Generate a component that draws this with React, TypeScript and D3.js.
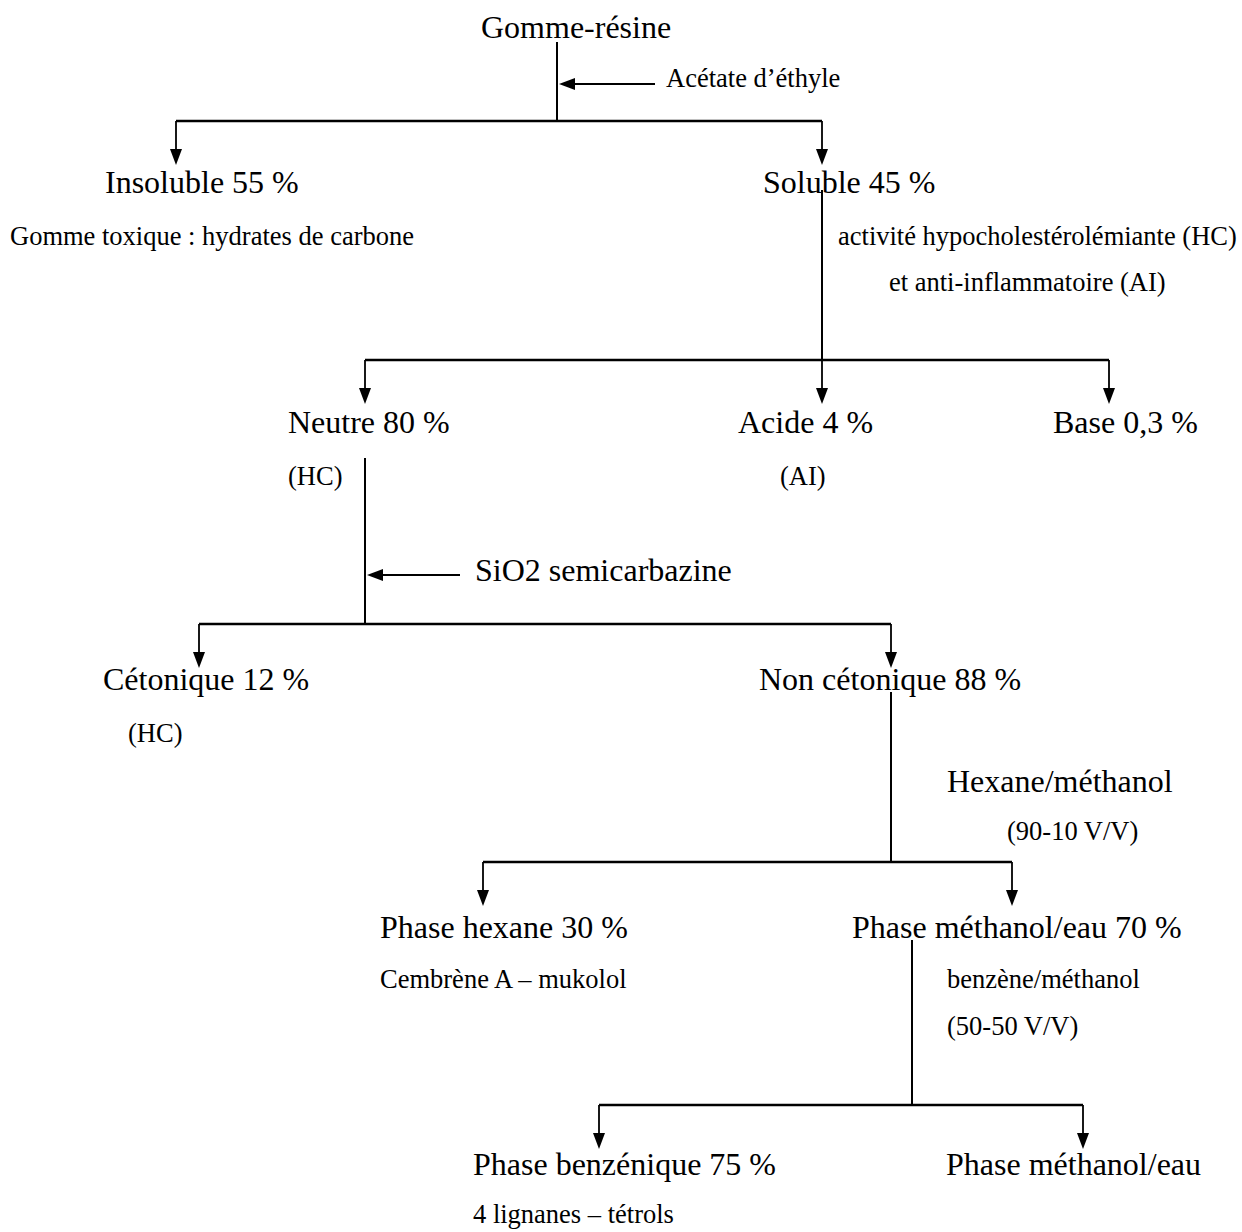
import { useEffect, useRef } from 'react';
import * as d3 from 'd3';

// node labels of the fractionation scheme
const nodeIds = ['root', 'insol', 'sol', 'neutre', 'acide', 'base', 'ceto', 'noncet', 'hex', 'meth', 'benz', 'methEau'];
const nodeLabels = [
    'Gomme-résine',
    'Insoluble 55 %',
    'Soluble 45 %',
    'Neutre 80 %',
    'Acide 4 %',
    'Base 0,3 %',
    'Cétonique 12 %',
    'Non cétonique 88 %',
    'Phase hexane 30 %',
    'Phase méthanol/eau 70 %',
    'Phase benzénique 75 %',
    'Phase méthanol/eau',
];

// parent -> children splits
const splitParents = ['root', 'sol', 'neutre', 'noncet', 'meth'];
const splitChildren = [
    ['insol', 'sol'],
    ['neutre', 'acide', 'base'],
    ['ceto', 'noncet'],
    ['hex', 'meth'],
    ['benz', 'methEau'],
];

// solvent / reagent added with a side arrow
const reagentNodes = ['root', 'neutre'];
const reagentLabels = ['Acétate d’éthyle', 'SiO2 semicarbazine'];

// free notes (small and large)
const noteIds = ['n1', 'n2', 'n3', 'n4', 'n5', 'n6', 'n7', 'n8', 'n9', 'n10', 'n11', 'n12'];
const noteTexts = [
    'Gomme toxique : hydrates de carbone',
    'activité hypocholestérolémiante (HC)',
    'et anti-inflammatoire (AI)',
    '(HC)',
    '(AI)',
    '(HC)',
    'Hexane/méthanol',
    '(90-10 V/V)',
    'Cembrène A – mukolol',
    'benzène/méthanol',
    '(50-50 V/V)',
    '4 lignanes – tétrols',
];

// ---- layout (pixels) ----
const W = 1242;
const H = 1232;
const BIG = 32;
const SMALL = 26.5;

const nodePos: Record<string, { x: number; y: number; ax: number }> = {
    root: { x: 481, y: 38, ax: 557 },
    insol: { x: 105, y: 193, ax: 176 },
    sol: { x: 763, y: 193, ax: 822 },
    neutre: { x: 288, y: 433, ax: 365 },
    acide: { x: 738, y: 433, ax: 822 },
    base: { x: 1053, y: 433, ax: 1109 },
    ceto: { x: 103, y: 690, ax: 199 },
    noncet: { x: 759, y: 690, ax: 891 },
    hex: { x: 380, y: 938, ax: 483 },
    meth: { x: 852, y: 938, ax: 1012 },
    benz: { x: 473, y: 1175, ax: 599 },
    methEau: { x: 946, y: 1175, ax: 1083 },
};

// stem of each split: x, top, bar y
const splitPos: Record<string, { x: number; top: number; bar: number }> = {
    root: { x: 557, top: 42, bar: 121 },
    sol: { x: 822, top: 190, bar: 360 },
    neutre: { x: 365, top: 458, bar: 624 },
    noncet: { x: 891, top: 692, bar: 862 },
    meth: { x: 912, top: 940, bar: 1105 },
};

const reagentPos: Record<string, { y: number; from: number; tx: number; ty: number; size: number }> = {
    root: { y: 84, from: 655, tx: 666, ty: 87, size: SMALL },
    neutre: { y: 575, from: 460, tx: 475, ty: 581, size: BIG },
};

const notePos: Record<string, { x: number; y: number; size: number }> = {
    n1: { x: 10, y: 245, size: SMALL },
    n2: { x: 838, y: 245, size: SMALL },
    n3: { x: 889, y: 291, size: SMALL },
    n4: { x: 288, y: 485, size: SMALL },
    n5: { x: 780, y: 485, size: SMALL },
    n6: { x: 128, y: 742, size: SMALL },
    n7: { x: 947, y: 792, size: BIG },
    n8: { x: 1007, y: 840, size: SMALL },
    n9: { x: 380, y: 988, size: SMALL },
    n10: { x: 947, y: 988, size: SMALL },
    n11: { x: 947, y: 1035, size: SMALL },
    n12: { x: 473, y: 1223, size: SMALL },
};

const ARROW_DROP = 44;
const HEAD_L = 16;
const HEAD_W = 6;

export default function App() {
    const ref = useRef<SVGSVGElement>(null);

    useEffect(() => {
        if (!ref.current) return;
        document.body.style.margin = '0';

        const svg = d3.select(ref.current);
        svg.selectAll('*').remove();
        svg.attr('width', W).attr('height', H);

        svg.append('rect').attr('width', W).attr('height', H).attr('fill', '#fff');

        const font = '"Liberation Serif", "Times New Roman", serif';
        const g = svg.append('g');
        const line = d3.line();

        const downHead = (x: number, y: number) =>
            `M${x},${y}L${x - HEAD_W},${y - HEAD_L}L${x + HEAD_W},${y - HEAD_L}Z`;
        const leftHead = (x: number, y: number) =>
            `M${x},${y}L${x + HEAD_L},${y - HEAD_W}L${x + HEAD_L},${y + HEAD_W}Z`;

        // splits
        splitParents.forEach((p, i) => {
            const s = splitPos[p];
            const kids = splitChildren[i];
            const xs = kids.map((k) => nodePos[k].ax);
            const tip = s.bar + ARROW_DROP;

            g.append('path')
                .attr('d', line([[s.x, s.top], [s.x, s.bar]]) as string)
                .attr('stroke', '#000')
                .attr('stroke-width', 2)
                .attr('fill', 'none');

            g.append('path')
                .attr('d', line([[d3.min(xs)!, s.bar], [d3.max(xs)!, s.bar]]) as string)
                .attr('stroke', '#000')
                .attr('stroke-width', 2.4)
                .attr('fill', 'none');

            xs.forEach((x) => {
                g.append('path')
                    .attr('d', line([[x, s.bar], [x, tip - HEAD_L + 2]]) as string)
                    .attr('stroke', '#000')
                    .attr('stroke-width', 1.8)
                    .attr('fill', 'none');
                g.append('path').attr('d', downHead(x, tip)).attr('fill', '#000');
            });
        });

        // reagent arrows
        reagentNodes.forEach((n, i) => {
            const r = reagentPos[n];
            const x0 = splitPos[n].x + 2;
            g.append('path')
                .attr('d', line([[x0 + HEAD_L - 2, r.y], [r.from, r.y]]) as string)
                .attr('stroke', '#000')
                .attr('stroke-width', 1.8)
                .attr('fill', 'none');
            g.append('path').attr('d', leftHead(x0, r.y)).attr('fill', '#000');
            g.append('text')
                .attr('x', r.tx)
                .attr('y', r.ty)
                .attr('font-family', font)
                .attr('font-size', r.size)
                .attr('fill', '#000')
                .text(reagentLabels[i]);
        });

        // node labels
        nodeIds.forEach((id, i) => {
            const p = nodePos[id];
            g.append('text')
                .attr('x', p.x)
                .attr('y', p.y)
                .attr('font-family', font)
                .attr('font-size', BIG)
                .attr('fill', '#000')
                .text(nodeLabels[i]);
        });

        // notes
        noteIds.forEach((id, i) => {
            const p = notePos[id];
            g.append('text')
                .attr('x', p.x)
                .attr('y', p.y)
                .attr('font-family', font)
                .attr('font-size', p.size)
                .attr('fill', '#000')
                .text(noteTexts[i]);
        });
    }, []);

    return <svg ref={ref} style={{ display: 'block' }} />;
}
